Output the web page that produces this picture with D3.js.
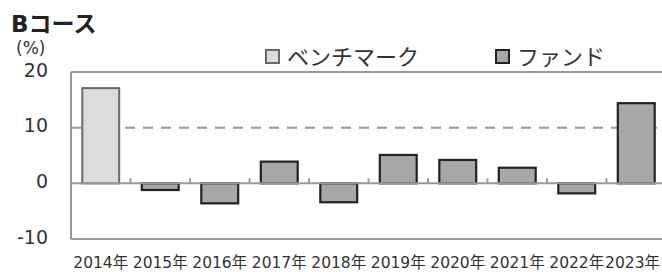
<!doctype html>
<html lang="ja">
<head>
<meta charset="utf-8">
<script src="https://d3js.org/d3.v7.min.js"></script>
<style>
  body { margin: 0; background: #fff; }
  text { font-family: "DejaVu Sans", "Noto Sans CJK JP", sans-serif; fill: #333; }
</style>
</head>
<body>
<div id="chart"></div>
<script>
// values (%)
var years = ["2014年", "2015年", "2016年", "2017年", "2018年", "2019年", "2020年", "2021年", "2022年", "2023年"];
var benchmark = [17.1, null, null, null, null, null, null, null, null, null];
var fund = [null, -1.2, -3.6, 3.9, -3.4, 5.1, 4.2, 2.8, -1.8, 14.4];
var yTicks = [-10, 0, 10, 20];
var seriesNames = ["ベンチマーク", "ファンド"];

var W = 662, H = 272;
var mLeft = 71, mRight = 666, mTop = 72, mBottom = 239;

var svg = d3.select("#chart").append("svg")
    .attr("width", W).attr("height", H);

var x = d3.scaleBand().domain(years).range([mLeft, mRight]).paddingInner(0.38).paddingOuter(0.19);
var xb = d3.scaleBand().domain(years).range([mLeft, mRight]);
var y = d3.scaleLinear().domain([-10, 20]).range([mBottom, mTop]);

var colors = { bench: "#dcdcde", benchStroke: "#6a6a6a", fund: "#a7a7a9", fundStroke: "#222" };

// frame lines (top, bottom solid; 10 dashed)
svg.append("line").attr("x1", mLeft).attr("x2", W).attr("y1", y(20)).attr("y2", y(20))
    .attr("stroke", "#999").attr("stroke-width", 2);
svg.append("line").attr("x1", mLeft).attr("x2", W).attr("y1", y(-10)).attr("y2", y(-10))
    .attr("stroke", "#999").attr("stroke-width", 2);
svg.append("line").attr("x1", mLeft).attr("x2", W).attr("y1", y(10)).attr("y2", y(10))
    .attr("stroke", "#999").attr("stroke-width", 2).attr("stroke-dasharray", "10,8");
svg.append("line").attr("x1", mLeft).attr("x2", mLeft).attr("y1", y(20)).attr("y2", y(-10))
    .attr("stroke", "#999").attr("stroke-width", 2);

// y labels
svg.selectAll(".ylab").data(yTicks).enter().append("text")
    .attr("x", 48).attr("y", d => y(d)).attr("dy", "0.24em")
    .attr("text-anchor", "end").style("font-size", "19px").text(d => d);

// bars
function drawBars(vals, fill, stroke, sw) {
  svg.append("g").selectAll("rect")
    .data(years.map((c, i) => ({ c: c, v: vals[i] })).filter(d => d.v != null))
    .enter().append("rect")
    .attr("x", d => x(d.c)).attr("width", x.bandwidth())
    .attr("y", d => y(Math.max(0, d.v))).attr("height", d => Math.abs(y(d.v) - y(0)))
    .attr("fill", fill).attr("stroke", stroke).attr("stroke-width", sw);
}
drawBars(benchmark, colors.bench, colors.benchStroke, 2);
drawBars(fund, colors.fund, colors.fundStroke, 2.2);

// zero line with category ticks
svg.append("line").attr("x1", mLeft).attr("x2", W).attr("y1", y(0)).attr("y2", y(0))
    .attr("stroke", "#999").attr("stroke-width", 2);
svg.selectAll(".xtick").data(years.slice(1)).enter().append("line")
    .attr("x1", d => xb(d)).attr("x2", d => xb(d))
    .attr("y1", y(0)).attr("y2", y(0) - 5)
    .attr("stroke", "#999").attr("stroke-width", 2);

// x labels (last one kept inside the window)
svg.selectAll(".xlab").data(years).enter().append("text")
    .attr("y", 268).attr("text-anchor", "middle").style("font-size", "15.5px").text(d => d)
    .attr("x", function(d) {
      var half = this.getComputedTextLength() / 2;
      return Math.min(xb(d) + xb.bandwidth() / 2, W - 2 - half);
    });

// title and unit
svg.append("text").attr("x", 11).attr("y", 32).style("font-size", "23px")
    .style("font-weight", "bold").style("fill", "#222").text("Bコース");
svg.append("text").attr("x", 16).attr("y", 54).style("font-size", "17px").text("(%)");

// legend
var leg = [
  { name: seriesNames[0], x: 265, fill: colors.bench, stroke: colors.benchStroke },
  { name: seriesNames[1], x: 495, fill: colors.fund, stroke: colors.fundStroke }
];
var lg = svg.selectAll(".leg").data(leg).enter().append("g");
lg.append("rect").attr("x", d => d.x + 1).attr("y", 50).attr("width", 13).attr("height", 13)
    .attr("fill", d => d.fill).attr("stroke", d => d.stroke).attr("stroke-width", 2);
lg.append("text").attr("x", d => d.x + 22).attr("y", 65)
    .style("font-size", "22px").style("font-family", "'Noto Sans CJK JP'").text(d => d.name);
</script>
</body>
</html>
